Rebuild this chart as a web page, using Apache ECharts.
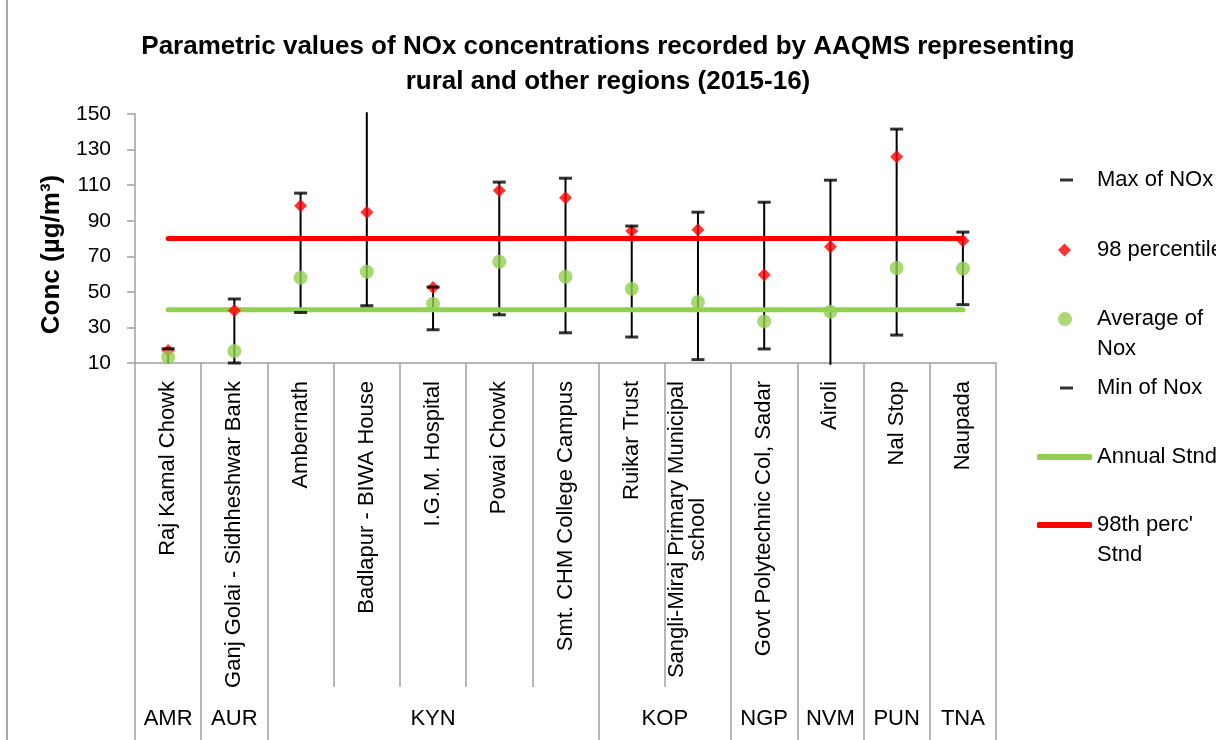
<!DOCTYPE html>
<html>
<head>
<meta charset="utf-8">
<title>NOx concentrations - rural and other regions</title>
<script src="https://cdn.jsdelivr.net/npm/echarts@6/dist/echarts.min.js"></script>
<style>
  html, body { margin: 0; padding: 0; background: #fff; }
  #chart { width: 1216px; height: 740px; }
</style>
</head>
<body>
<div id="chart"></div>
<script>
// stations (x axis) and the region each belongs to
var categories = ['Raj Kamal Chowk', 'Ganj Golai - Sidhheshwar Bank', 'Ambernath', 'Badlapur - BIWA House',
    'I.G.M. Hospital', 'Powai Chowk', 'Smt. CHM College Campus', 'Ruikar Trust',
    'Sangli-Miraj Primary Municipal\nschool', 'Govt Polytechnic Col, Sadar', 'Airoli', 'Nal Stop', 'Naupada'];
var regions = ['AMR', 'AUR', 'KYN', 'KYN', 'KYN', 'KYN', 'KYN', 'KOP', 'KOP', 'NGP', 'NVM', 'PUN', 'TNA'];

// values (µg/m3)
var maxNox = [18, 46, 105.5, 151, 52.7, 111.7, 113.9, 87, 94.8, 100.4, 112.8, 141.5, 83.6];
var p98Nox = [17, 39.5, 98.4, 94.8, 52.5, 107, 102.9, 84.2, 84.9, 59.6, 75.3, 126, 78.7];
var avgNox = [13.4, 16.7, 57.9, 61.3, 43.3, 66.9, 58.5, 51.7, 44.3, 33.4, 38.8, 63.4, 63.1];
var minNox = [9.5, 10, 38.4, 42.2, 28.7, 37.1, 27, 24.6, 11.9, 17.9, 9, 25.7, 42.8];
var annualStd = [40, 40, 40, 40, 40, 40, 40, 40, 40, 40, 40, 40, 40];
var perc98Std = [80, 80, 80, 80, 80, 80, 80, 80, 80, 80, 80, 80, 80];

var yTicks = { min: 10, max: 150, step: 20 };

var FONT = "'Liberation Sans', Arial, sans-serif";
var GREEN = '#92D050';
var RED = '#FF0000';
var AXIS_GREY = '#a0a0a0';

var gridLeft = 135, gridRight = 220;
var bandWidth = (1216 - gridLeft - gridRight) / categories.length;

// where each region label goes (middle of its run of stations)
var regionLabelAt = {};
(function () {
    var start = 0;
    for (var i = 1; i <= regions.length; i++) {
        if (i === regions.length || regions[i] !== regions[start]) {
            var len = i - start;
            regionLabelAt[start + Math.floor((len - 1) / 2)] = { name: regions[start], even: len % 2 === 0 };
            start = i;
        }
    }
})();

var myChart = echarts.init(document.getElementById('chart'));

// one legend box per entry, so each can sit where Excel put it
function legendItem(name, left, top, w, h, icon, padLeft) {
    var l = {
        orient: 'vertical',
        selectedMode: false,
        padding: 0,
        data: [name],
        left: left,
        top: top,
        itemWidth: w,
        itemHeight: h,
        // two-line names: icon lines up with the first line
        formatter: function (n) { return n.indexOf('\n') >= 0 ? ' \n' + n : n; },
        textStyle: { fontFamily: FONT, fontSize: 22, color: '#000', lineHeight: 30, padding: [0, 0, 0, padLeft] }
    };
    if (icon) l.icon = icon;
    return l;
}

var option = {
    backgroundColor: '#fff',
    animation: false,
    title: {
        text: 'Parametric values of NOx concentrations recorded by AAQMS representing\nrural and other regions (2015-16)',
        left: 'center',
        top: 24,
        textStyle: { fontFamily: FONT, fontSize: 26, fontWeight: 'bold', color: '#000', lineHeight: 35 }
    },
    graphic: [{
        type: 'rect',
        shape: { x: 7, y: -5, width: 1300, height: 800 },
        style: { fill: 'none', stroke: '#8c8c8c', lineWidth: 1.5 },
        silent: true
    }],
    legend: [
        legendItem('Max of NOx', 1060, 165, 13, 3, null, 19),
        legendItem('98 percentile', 1058, 235, 13, 13, null, 21),
        legendItem('Average of\nNox', 1058, 274, 14, 14, null, 20),
        legendItem('Min of Nox', 1060, 373, 13, 3, null, 19),
        legendItem('Annual Stnd', 1037, 442, 55, 6, 'roundRect', 0),
        legendItem("98th perc'\nStnd", 1037, 480, 55, 6, 'roundRect', 0)
    ],
    grid: { left: gridLeft, right: gridRight, top: 114, bottom: 377, containLabel: false },
    xAxis: [{
        type: 'category',
        data: categories,
        position: 'bottom',
        axisLine: { lineStyle: { color: AXIS_GREY, width: 1.5 } },
        axisTick: { show: true, interval: 0, length: 324, lineStyle: { color: AXIS_GREY, width: 1.5 } },
        axisLabel: {
            interval: 0,
            rotate: 90,
            margin: 18,
            color: '#000',
            fontFamily: FONT,
            fontSize: 22,
            lineHeight: 21,
            formatter: function (v) {
                var lines = v.split('\n');
                var out = lines.map(function (s) { return '{c|' + s + '}'; }).join('\n');
                // wrapped label: keep the second line on the tick, like the original
                return lines.length > 1 ? out + '\n{c| }' : out;
            },
            rich: { c: { align: 'center', fontFamily: FONT, fontSize: 22, lineHeight: 21, color: '#000' } }
        },
        splitLine: { show: false }
    }, {
        type: 'category',
        data: categories,
        position: 'bottom',
        offset: 0,
        axisLine: { show: false },
        axisTick: {
            show: true,
            length: 377,
            interval: function (i) { return i === 0 || regions[i] !== regions[i - 1]; },
            lineStyle: { color: AXIS_GREY, width: 1.5 }
        },
        axisLabel: {
            interval: 0,
            margin: 345,
            color: '#000',
            fontFamily: FONT,
            fontSize: 22,
            formatter: function (v, i) {
                var r = regionLabelAt[i];
                if (!r) return '';
                return r.even ? '{e|' + r.name + '}' : r.name;
            },
            rich: { e: { fontFamily: FONT, fontSize: 22, color: '#000', padding: [0, 0, 0, bandWidth] } }
        },
        splitLine: { show: false }
    }],
    yAxis: {
        type: 'value',
        min: yTicks.min,
        max: yTicks.max,
        interval: yTicks.step,
        name: 'Conc (µg/m³)',
        nameLocation: 'middle',
        nameGap: 70,
        nameTextStyle: { fontFamily: FONT, fontSize: 26, fontWeight: 'bold', color: '#000', padding: [0, 32, 0, 0] },
        axisLine: { show: true, lineStyle: { color: AXIS_GREY, width: 1.5 } },
        axisTick: { show: true, length: 8, lineStyle: { color: AXIS_GREY, width: 1.5 } },
        axisLabel: { margin: 24, color: '#000', fontFamily: FONT, fontSize: 21 },
        splitLine: { show: false }
    },
    series: [
        {
            name: 'range',
            type: 'custom',
            z: 1,
            silent: true,
            renderItem: function (params, api) {
                var hi = api.coord([api.value(0), api.value(2)]);
                var lo = api.coord([api.value(0), api.value(1)]);
                return {
                    type: 'line',
                    shape: { x1: hi[0], y1: hi[1], x2: lo[0], y2: lo[1] },
                    style: { stroke: '#000', lineWidth: 2 }
                };
            },
            encode: { x: 0, y: [1, 2] },
            data: categories.map(function (c, i) { return [i, minNox[i], maxNox[i]]; })
        },
        {
            name: 'Annual Stnd',
            type: 'line',
            z: 2,
            data: annualStd,
            symbol: 'none',
            color: GREEN,
            lineStyle: { color: GREEN, width: 5, cap: 'round' }
        },
        {
            name: "98th perc'\nStnd",
            type: 'line',
            z: 2,
            data: perc98Std,
            symbol: 'none',
            color: RED,
            lineStyle: { color: RED, width: 5, cap: 'round' }
        },
        {
            name: '98 percentile',
            type: 'scatter',
            z: 3,
            data: p98Nox,
            symbol: 'diamond',
            symbolSize: 13,
            itemStyle: { color: RED }
        },
        {
            name: 'Average of\nNox',
            type: 'scatter',
            z: 4,
            data: avgNox,
            symbol: 'circle',
            symbolSize: 14,
            itemStyle: { color: GREEN }
        },
        {
            name: 'Max of NOx',
            type: 'scatter',
            z: 5,
            data: maxNox,
            symbol: 'rect',
            symbolSize: [13, 3],
            itemStyle: { color: '#000' }
        },
        {
            name: 'Min of Nox',
            type: 'scatter',
            z: 5,
            data: minNox,
            symbol: 'rect',
            symbolSize: [13, 3],
            itemStyle: { color: '#000' }
        }
    ]
};

myChart.setOption(option);
</script>
</body>
</html>
